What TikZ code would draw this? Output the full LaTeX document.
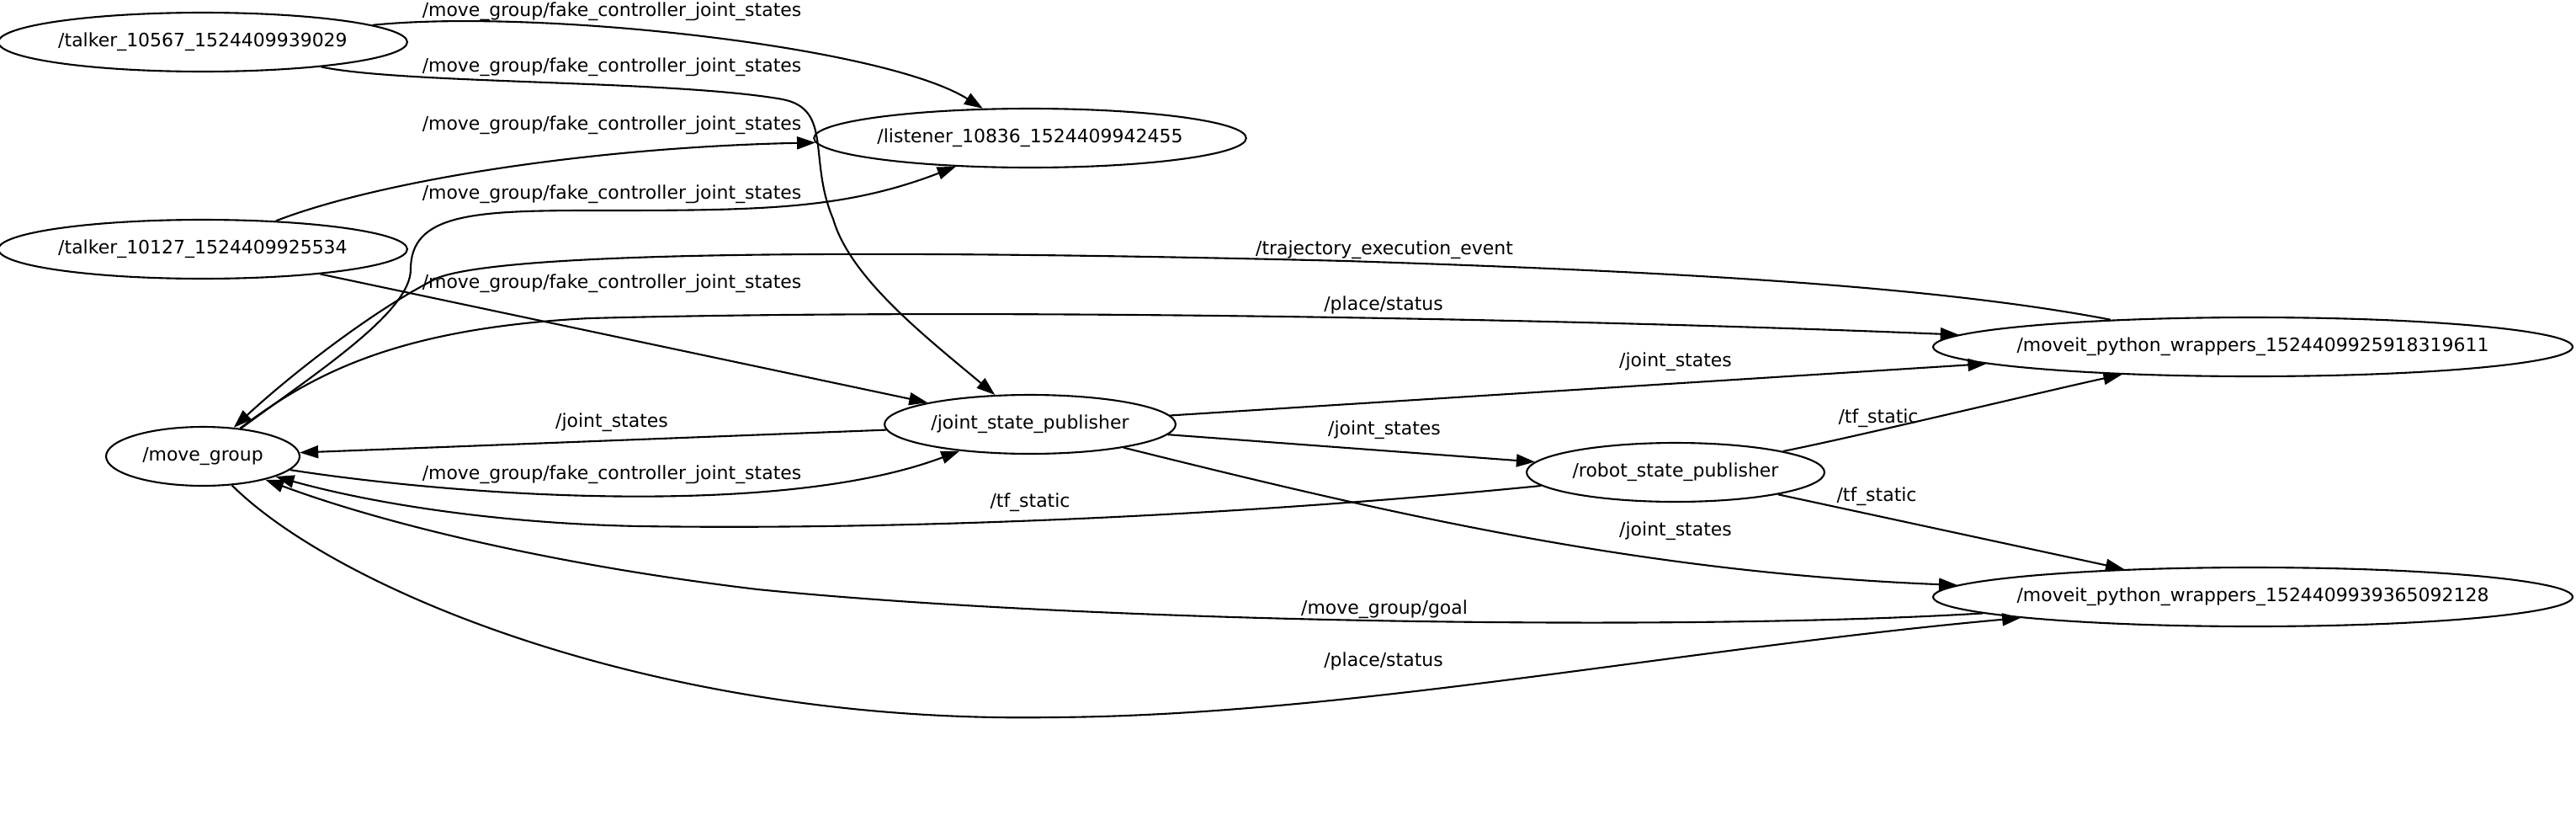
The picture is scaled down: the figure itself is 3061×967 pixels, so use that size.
\documentclass[tikz,border=0pt]{standalone}
\usepackage{fontspec}
\setmainfont{DejaVu Sans}
\usetikzlibrary{arrows.meta,shapes.geometric}
\newcommand{\rosfont}{\fontsize{12.5}{15}\selectfont}
\tikzset{
  >={Triangle[length=4.4mm,width=3mm]},
  rosnode/.style={
    ellipse, draw=black, line width=1.2pt, inner sep=0pt,
    minimum height=1.4cm, font=\rosfont, text=black
  },
  widenode/.style={rosnode, inner xsep=-7pt, minimum width=15.2cm},
  topic/.style={font=\rosfont, inner sep=0pt, text=black},
  pub/.style={->, line width=1.2pt, draw=black}
}

\begin{document}
\begin{tikzpicture}[x=0.02cm, y=-0.02cm]
\useasboundingbox (0,0) rectangle (3061,967);
\node[rosnode, minimum width=9.64cm] (talkerA) at (241,50) {/talker\_10567\_1524409939029};
\node[rosnode, minimum width=9.64cm] (talkerB) at (241,296) {/talker\_10127\_1524409925534};
\node[rosnode, minimum width=10.16cm] (listener) at (1224,164) {/listener\_10836\_1524409942455};
\node[rosnode, minimum width=4.6cm] (movegroup) at (241,542) {/move\_group};
\node[rosnode, minimum width=6.92cm] (jsp) at (1224,504) {/joint\_state\_publisher};
\node[rosnode, minimum width=7.08cm] (rsp) at (1991,561) {/robot\_state\_publisher};
\node[widenode] (mpwA) at (2677,412) {/moveit\_python\_wrappers\_1524409925918319611};
\node[widenode] (mpwB) at (2677,709) {/moveit\_python\_wrappers\_1524409939365092128};

\node[topic] (fakeA) at (727,14) {/move\_group/fake\_controller\_joint\_states};
\node[topic] (fakeB) at (727,80) {/move\_group/fake\_controller\_joint\_states};
\node[topic] (fakeC) at (727,149) {/move\_group/fake\_controller\_joint\_states};
\node[topic] (fakeD) at (727,231) {/move\_group/fake\_controller\_joint\_states};
\node[topic] (fakeE) at (727,337) {/move\_group/fake\_controller\_joint\_states};
\node[topic] (fakeF) at (727,564) {/move\_group/fake\_controller\_joint\_states};
\node[topic] (traj) at (1645,297) {/trajectory\_execution\_event};
\node[topic] (placeA) at (1644,362) {/place/status};
\node[topic] (jointA) at (1991,430) {/joint\_states};
\node[topic] (jointB) at (727,502) {/joint\_states};
\node[topic] (jointC) at (1645,511) {/joint\_states};
\node[topic] (tfA) at (2232,497) {/tf\_static};
\node[topic] (tfB) at (1224,597) {/tf\_static};
\node[topic] (tfC) at (2230,590) {/tf\_static};
\node[topic] (jointD) at (1991,631) {/joint\_states};
\node[topic] (goal) at (1645,724) {/move\_group/goal};
\node[topic] (placeB) at (1644,785) {/place/status};

\draw[pub] (talkerA) .. controls (640,10) and (1050,55) .. (listener);
\draw[pub] (talkerA) .. controls (480,100) and (800,95) .. (930,118)
  .. controls (990,130) and (960,190) .. (990,260)
  .. controls (1010,330) and (1100,400) .. (jsp);
\draw[pub] (talkerB) .. controls (450,215) and (700,175) .. (listener);
\draw[pub] (movegroup) .. controls (380,440) and (488,370) .. (488,320)
  .. controls (488,255) and (560,250) .. (700,250)
  .. controls (900,250) and (1000,250) .. (listener);
\draw[pub] (talkerB) -- (jsp);
\draw[pub] (movegroup) .. controls (550,590) and (930,615) .. (jsp);
\draw[pub] (mpwA) .. controls (2300,340) and (2000,323) .. (1600,310)
  .. controls (1000,295) and (600,300) .. (520,330)
  .. controls (440,370) and (340,450) .. (movegroup);
\draw[pub] (movegroup) .. controls (370,445) and (470,390) .. (700,378)
  .. controls (1200,365) and (1900,380) .. (mpwA);
\draw[pub] (jsp) -- (mpwA);
\draw[pub] (jsp) -- (movegroup);
\draw[pub] (jsp) -- (rsp);
\draw[pub] (rsp) .. controls (2200,520) and (2450,460) .. (mpwA);
\draw[pub] (rsp) .. controls (1500,610) and (1100,630) .. (760,625)
  .. controls (600,622) and (450,600) .. (movegroup);
\draw[pub] (rsp) -- (mpwB);
\draw[pub] (jsp) .. controls (1650,610) and (1950,680) .. (mpwB);
\draw[pub] (mpwB) .. controls (2000,750) and (1300,740) .. (900,700)
  .. controls (650,670) and (450,620) .. (movegroup);
\draw[pub] (movegroup) .. controls (400,700) and (780,860) .. (1250,852)
  .. controls (1600,850) and (2000,770) .. (mpwB);
\end{tikzpicture}
\end{document}
